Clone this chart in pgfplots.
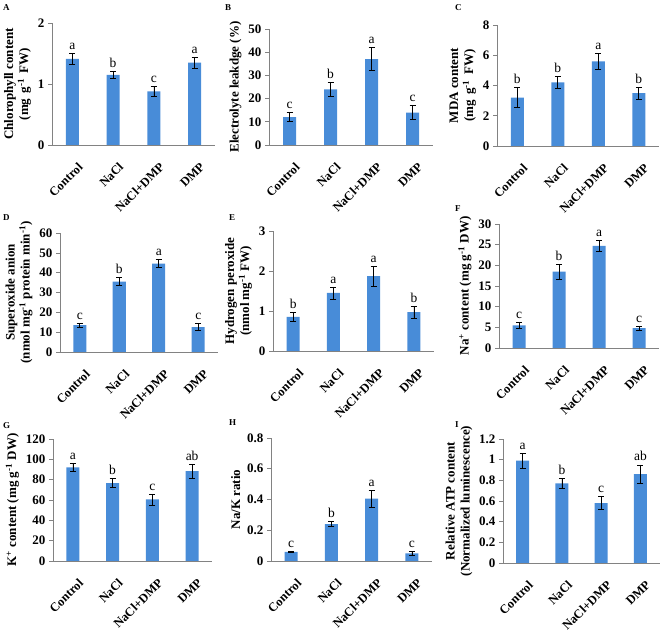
\documentclass[border=0pt]{standalone}
\usepackage{pgfplots}
\pgfplotsset{compat=1.18}
\usepackage{pgfplotstable}
\usepackage{fontspec}
\setmainfont{Liberation Serif}
\definecolor{barblue}{RGB}{72,140,216}
\definecolor{axgray}{RGB}{130,130,130}
\newcommand{\tickfont}{\fontsize{13}{15}\selectfont\bfseries}
\newcommand{\xfont}{\fontsize{12.5}{15}\selectfont\bfseries}
\newcommand{\letfont}{\fontsize{13.5}{16}\selectfont}
\newcommand{\panfont}{\fontsize{9}{11}\selectfont\bfseries}
\newcommand{\inv}{\textsuperscript{-1}}

\pgfplotstableread{
x y e l
0 1.41 0.09 a
1 1.15 0.06 b
2 0.88 0.08 c
3 1.35 0.09 a
}\tA
\pgfplotstableread{
x y e l
0 12 2 c
1 24 3 b
2 37 5 a
3 14 3 c
}\tB
\pgfplotstableread{
x y e l
0 3.2 0.65 b
1 4.2 0.4 b
2 5.6 0.5 a
3 3.5 0.4 b
}\tC
\pgfplotstableread{
x y e l
0 13.5 1.0 c
1 35.5 2.0 b
2 44.5 2.0 a
3 12.5 1.8 c
}\tD
\pgfplotstableread{
x y e l
0 0.85 0.12 b
1 1.45 0.15 a
2 1.87 0.25 a
3 0.97 0.15 b
}\tE
\pgfplotstableread{
x y e l
0 5.5 0.8 c
1 18.5 1.8 b
2 24.7 1.3 a
3 4.8 0.4 c
}\tF
\pgfplotstableread{
x y e l
0 92 4 a
1 76.5 4.5 b
2 60.5 5.5 c
3 88.5 7 ab
}\tG
\pgfplotstableread{
x y e l
0 0.06 0.003 c
1 0.24 0.015 b
2 0.405 0.055 a
3 0.05 0.01 c
}\tH
\pgfplotstableread{
x y e l
0 0.99 0.07 a
1 0.77 0.05 b
2 0.58 0.065 c
3 0.86 0.09 ab
}\tI

\pgfplotsset{panel/.style={
 scale only axis, anchor=south west,
 xmin=-0.5, xmax=3.5, ymin=0,
 axis x line*=bottom, axis y line*=left,
 axis line style={axgray, line width=0.6pt, -},
 xtick={0,1,2,3}, xticklabels={Control,NaCl,NaCl+DMP,DMP},
 xtick style={draw=none},
 x tick label style={font=\xfont, rotate=45, anchor=north east, inner sep=0.5pt, xshift=-5pt, yshift=-12pt},
 y tick label style={font=\tickfont},
 ytick style={axgray, line width=0.6pt},
 tick align=outside, major tick length=4pt,
 /pgf/number format/assume math mode=true,
 ylabel style={font=\tickfont, align=center},
 clip=false,
}}

\newcommand{\bars}[1]{%
 \addplot[ybar, bar width=13pt, fill=barblue, draw=none,
   error bars/.cd, y dir=both, y explicit,
   error bar style={black, line width=0.6pt},
   error mark options={rotate=90, black, mark size=3pt, line width=0.6pt}]
   table[x=x, y=y, y error=e]{#1};
 \addplot[draw=none, mark=none, nodes near coords, point meta=explicit symbolic,
   nodes near coords style={font=\letfont, anchor=south, inner sep=1.5pt, yshift=2pt}]
   table[x=x, y expr=\thisrow{y}+\thisrow{e}, meta=l]{#1};
}

\begin{document}
\begin{tikzpicture}
\useasboundingbox (0,0) rectangle (660pt,636pt);

% Row 1
\begin{axis}[panel, at={(52pt,491pt)}, width=163pt, height=122pt,
  ymax=2, ytick={0,1,2},
  ylabel={Chlorophyll content\\(mg\, g\inv{}\, FW)}]
\bars{\tA}
\end{axis}
\begin{axis}[panel, at={(269pt,491pt)}, width=164pt, height=116pt,
  ymax=50, ytick={0,10,...,50},
  ylabel={Electrolyte leakdge (\%)}]
\bars{\tB}
\end{axis}
\begin{axis}[panel, at={(497pt,490pt)}, width=162pt, height=121pt,
  ymax=8, ytick={0,2,...,8},
  ylabel={MDA content\\(mg\, g\inv{}\, FW)}]
\bars{\tC}
\end{axis}

% Row 2
\begin{axis}[panel, at={(60pt,284pt)}, width=158pt, height=119pt,
  ymax=60, ytick={0,10,...,60},
  ylabel={Superoxide anion\\(nmol mg\inv{} protein min\inv)}]
\bars{\tD}
\end{axis}
\begin{axis}[panel, at={(273pt,285pt)}, width=161pt, height=120pt,
  ymax=3, ytick={0,1,2,3},
  ylabel={Hydrogen peroxide\\(nmol mg\inv{} FW)}]
\bars{\tE}
\end{axis}
\begin{axis}[panel, at={(499pt,288pt)}, width=160pt, height=124pt,
  ymax=30, ytick={0,5,...,30},
  ylabel={Na\textsuperscript{+} content (mg g\inv{} DW)}]
\bars{\tF}
\end{axis}

% Row 3
\begin{axis}[panel, at={(53pt,75pt)}, width=159pt, height=122pt,
  ymax=120, ytick={0,20,...,120},
  ylabel={K\textsuperscript{+} content (mg g\inv{} DW)}]
\bars{\tG}
\end{axis}
\begin{axis}[panel, at={(271pt,75pt)}, width=161pt, height=123pt,
  ymax=0.8, ytick={0,0.2,0.4,0.6,0.8},
  ylabel={Na/K ratio}]
\bars{\tH}
\end{axis}
\begin{axis}[panel, at={(503pt,73pt)}, width=157pt, height=124pt,
  ymax=1.2, ytick={0,0.2,0.4,0.6,0.8,1,1.2},
  ylabel={Relative ATP content\\(Normalized luminescence)}]
\bars{\tI}
\end{axis}

\node[font=\panfont, anchor=north west, inner sep=0pt] at (3pt,632pt) {A};
\node[font=\panfont, anchor=north west, inner sep=0pt] at (225pt,632pt) {B};
\node[font=\panfont, anchor=north west, inner sep=0pt] at (455pt,632pt) {C};
\node[font=\panfont, anchor=north west, inner sep=0pt] at (3pt,422pt) {D};
\node[font=\panfont, anchor=north west, inner sep=0pt] at (229pt,422pt) {E};
\node[font=\panfont, anchor=north west, inner sep=0pt] at (455pt,431pt) {F};
\node[font=\panfont, anchor=north west, inner sep=0pt] at (3pt,214pt) {G};
\node[font=\panfont, anchor=north west, inner sep=0pt] at (229pt,217pt) {H};
\node[font=\panfont, anchor=north west, inner sep=0pt] at (455pt,215pt) {I};
\end{tikzpicture}
\end{document}
